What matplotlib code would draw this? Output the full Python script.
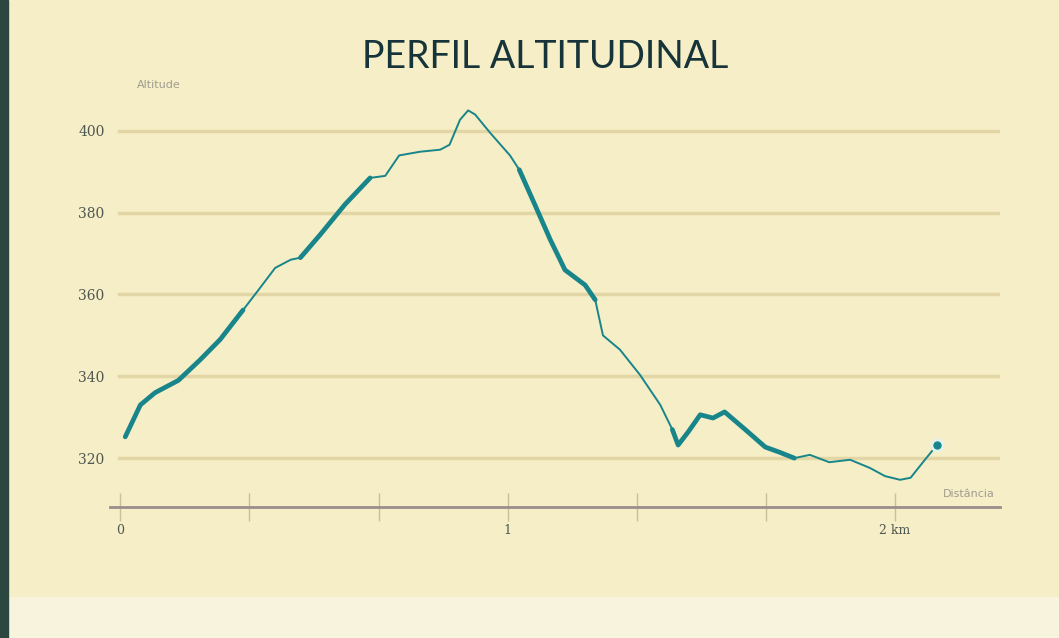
import matplotlib.pyplot as plt
from matplotlib.patches import Rectangle

# distance (km) and altitude (m) read from the profile
dist_km = [0.013, 0.052, 0.09, 0.15, 0.206, 0.258, 0.317, 0.356, 0.40,
           0.44, 0.465, 0.516, 0.58, 0.645, 0.684, 0.72, 0.774, 0.826,
           0.85, 0.877, 0.898, 0.916, 0.955, 1.006, 1.03, 1.07, 1.11,
           1.148, 1.20, 1.226, 1.246, 1.29, 1.342, 1.394, 1.425, 1.44,
           1.466, 1.497, 1.53, 1.56, 1.613, 1.665, 1.70, 1.74, 1.78,
           1.83, 1.884, 1.935, 1.974, 2.013, 2.04, 2.077, 2.108]
altitude = [325.2, 333.0, 336.0, 339.0, 344.0, 349.0, 356.2, 361.0, 366.5,
            368.5, 369.0, 374.6, 382.0, 388.5, 389.0, 394.0, 394.9, 395.4,
            396.6, 402.7, 405.0, 404.0, 399.5, 394.0, 390.5, 382.0, 373.4,
            366.0, 362.3, 358.7, 350.0, 346.5, 340.3, 333.0, 327.0, 323.2,
            326.4, 330.6, 329.8, 331.3, 327.0, 322.7, 321.5, 320.0, 320.8,
            319.0, 319.6, 317.6, 315.6, 314.7, 315.2, 319.6, 323.2]

y_ticks = [320, 340, 360, 380, 400]
x_ticks = [0, 1 / 3, 2 / 3, 1, 4 / 3, 5 / 3, 2]
x_labels = ["0", "", "", "1", "", "", "2 km"]

# stretches drawn with a heavier stroke
thick_ranges = [(0.0, 0.32), (0.465, 0.65), (1.03, 1.23), (1.425, 1.75)]

BG = "#f6eec6"
TEAL = "#17858a"
TEXT = "#4f5753"
GRID = "#e2d6a6"


def main():
    fig = plt.figure(figsize=(10.59, 6.38), dpi=100, facecolor=BG)
    fig.patches.append(Rectangle((0, 0), 1, 0.065, transform=fig.transFigure,
                                 color="#f8f3dc", zorder=-1))
    fig.patches.append(Rectangle((0, 0), 0.008, 1, transform=fig.transFigure,
                                 color="#2c4640", zorder=-1))

    ax = fig.add_axes([0.104, 0.205, 0.84, 0.654])
    ax.set_facecolor(BG)
    ax.set_xlim(-0.026, 2.27)
    ax.set_ylim(308, 410)

    for y in y_ticks:
        ax.axhline(y, xmin=0.01, color=GRID, lw=2.5, zorder=1)

    # thin base line, then heavier stretches on top
    ax.plot(dist_km, altitude, color=TEAL, lw=1.4, zorder=3,
            solid_capstyle="round")
    for lo, hi in thick_ranges:
        xs = [d for d in dist_km if lo <= d <= hi]
        ys = [a for d, a in zip(dist_km, altitude) if lo <= d <= hi]
        ax.plot(xs, ys, color=TEAL, lw=3.4, zorder=4, solid_capstyle="round")
    ax.plot(dist_km[-1], altitude[-1], "o", ms=9, color="#e4f2ee", zorder=4)
    ax.plot(dist_km[-1], altitude[-1], "o", ms=5, color=TEAL, zorder=5)

    for s in ["top", "right", "left"]:
        ax.spines[s].set_visible(False)
    ax.spines["bottom"].set_color("#9a8e8c")
    ax.spines["bottom"].set_linewidth(2)

    ax.set_yticks(y_ticks)
    ax.set_yticklabels([str(v) for v in y_ticks], fontfamily="DejaVu Serif",
                       fontsize=10, color=TEXT)
    ax.tick_params(axis="y", length=0, pad=4)

    ax.set_xticks(x_ticks)
    ax.set_xticklabels(x_labels, fontfamily="DejaVu Serif", fontsize=9,
                       color=TEXT)
    ax.tick_params(axis="x", direction="inout", length=20, width=1,
                   color="#c9bf9c", pad=2)

    ax.text(0.03, 1.0, "Altitude", transform=ax.transAxes, fontsize=8,
            color="#a09c92", va="bottom")
    ax.text(0.995, 0.02, "Distância", transform=ax.transAxes, fontsize=8,
            color="#a09c92", ha="right", va="bottom")

    fig.text(0.515, 0.91, "PERFIL ALTITUDINAL", fontfamily="Lato",
             fontsize=27, color="#17343a", ha="center", va="center")

    fig.savefig("out.png", dpi=100, facecolor=BG)


if __name__ == "__main__":
    main()
